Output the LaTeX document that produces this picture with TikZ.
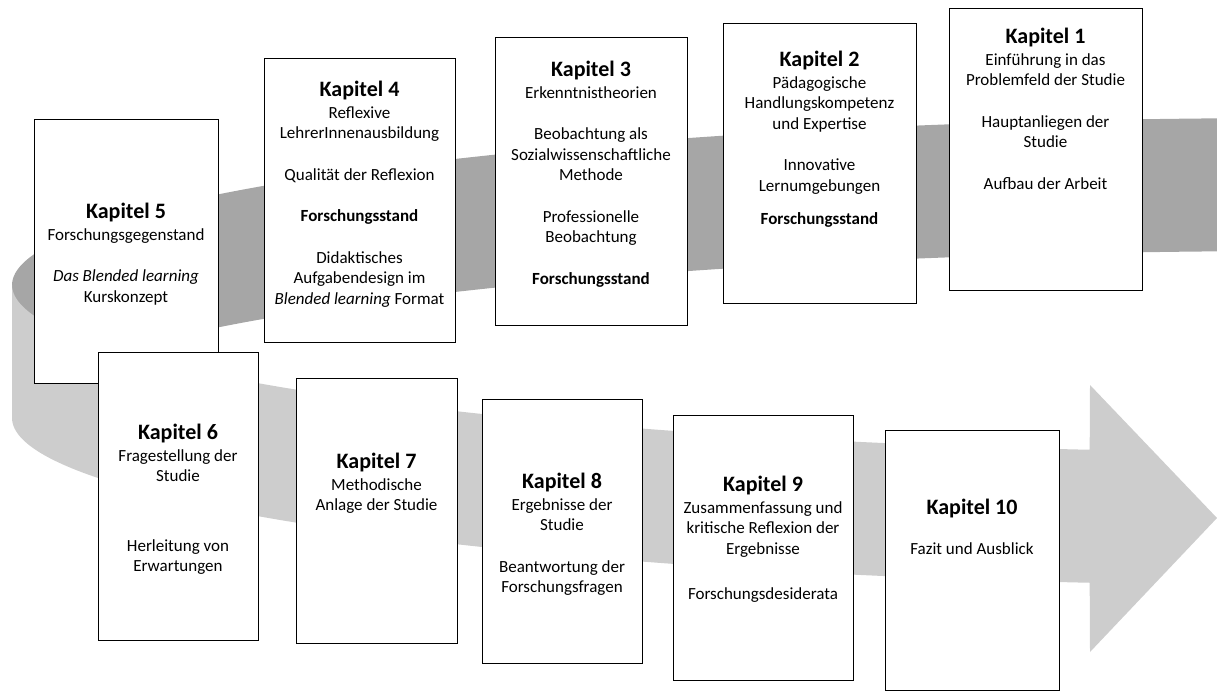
\documentclass[tikz,border=0pt]{standalone}
\usepackage{fontspec}
\setmainfont{Carlito}
\definecolor{backband}{RGB}{166,166,166}
\definecolor{frontband}{RGB}{205,205,205}
\newcommand\kaptitle[1]{{\fontsize{22}{22}\selectfont\bfseries Kapitel #1}}
\begin{document}
\begin{tikzpicture}[x=1pt,y=-1pt,
  kbox/.style={draw=black, line width=0.9pt, fill=white, inner sep=0pt, outer sep=0pt},
  ktext/.style={align=center, inner sep=0pt, anchor=north, font=\fontsize{17}{20.5}\selectfont}]
\useasboundingbox (0,0) rectangle (1217,693);

% back half of the ribbon (upper arcs of the two ellipses)
\fill[backband]
  plot[domain=180:93.7, samples=150] ({1300+1288*cos(\x)},{285-167*sin(\x)})
  -- plot[domain=93.7:180, samples=150] ({1300+1288*cos(\x)},{418-167*sin(\x)})
  -- cycle;

% front half of the ribbon ending in the arrow head
\fill[frontband]
  plot[domain=180:99.4, samples=150] ({1300+1288*cos(\x)},{285+167*sin(\x)})
  -- (1090,385) -- (1217,518) -- (1090,652)
  -- plot[domain=99.4:180, samples=150] ({1300+1288*cos(\x)},{418+167*sin(\x)})
  -- cycle;

% chapter boxes, upper row
\node[kbox, minimum width=193, minimum height=282] (k1) at (1045.5,149) {};
\node[kbox, minimum width=193, minimum height=280] (k2) at (819.5,163) {};
\node[kbox, minimum width=192, minimum height=288] (k3) at (591,181) {};
\node[kbox, minimum width=191, minimum height=284] (k4) at (359.5,200) {};
\node[kbox, minimum width=184, minimum height=264] (k5) at (126,251) {};
% lower row
\node[kbox, minimum width=160, minimum height=288] (k6) at (178,496) {};
\node[kbox, minimum width=161, minimum height=265] (k7) at (376.5,510.5) {};
\node[kbox, minimum width=160, minimum height=264] (k8) at (562,531) {};
\node[kbox, minimum width=180, minimum height=265] (k9) at (763,547.5) {};
\node[kbox, minimum width=174, minimum height=260] (k10) at (972,560) {};

% chapter texts
\node[ktext] (t1) at (1045.5,28) {\kaptitle{1}\\[1pt]
  Einführung in das\\ Problemfeld der Studie\\[21pt]
  Hauptanliegen der\\ Studie\\[21pt]
  Aufbau der Arbeit};
\node[ktext] (t2) at (819.5,51) {\kaptitle{2}\\[1pt]
  Pädagogische\\ Handlungskompetenz\\ und Expertise\\[21pt]
  Innovative\\ Lernumgebungen\\[12.5pt]
  \textbf{Forschungsstand}};
\node[ktext] (t3) at (591,61) {\kaptitle{3}\\[1pt]
  Erkenntnistheorien\\[21pt]
  Beobachtung als\\ Sozialwissenschaftliche\\ Methode\\[21pt]
  Professionelle\\ Beobachtung\\[21pt]
  \textbf{Forschungsstand}};
\node[ktext] (t4) at (359.5,81) {\kaptitle{4}\\[1pt]
  Reflexive\\ LehrerInnenausbildung\\[21pt]
  Qualität der Reflexion\\[21pt]
  \textbf{Forschungsstand}\\[21pt]
  Didaktisches\\ Aufgabendesign im\\ \textit{Blended learning} Format};
\node[ktext] (t5) at (126,203) {\kaptitle{5}\\[1pt]
  Forschungsgegenstand\\[21pt]
  \textit{Das Blended learning}\\ Kurskonzept};
\node[ktext] (t6) at (178,424) {\kaptitle{6}\\[1pt]
  Fragestellung der\\ Studie\\[49pt]
  Herleitung von\\ Erwartungen};
\node[ktext] (t7) at (376.5,453) {\kaptitle{7}\\[1pt]
  Methodische\\ Anlage der Studie};
\node[ktext] (t8) at (562,473) {\kaptitle{8}\\[1pt]
  Ergebnisse der\\ Studie\\[21pt]
  Beantwortung der\\ Forschungsfragen};
\node[ktext] (t9) at (763,476) {\kaptitle{9}\\[1pt]
  Zusammenfassung und\\ kritische Reflexion der\\ Ergebnisse\\[24.5pt]
  Forschungsdesiderata};
\node[ktext] (t10) at (972,499) {\kaptitle{10}\\[19pt]
  Fazit und Ausblick};
\end{tikzpicture}
\end{document}
